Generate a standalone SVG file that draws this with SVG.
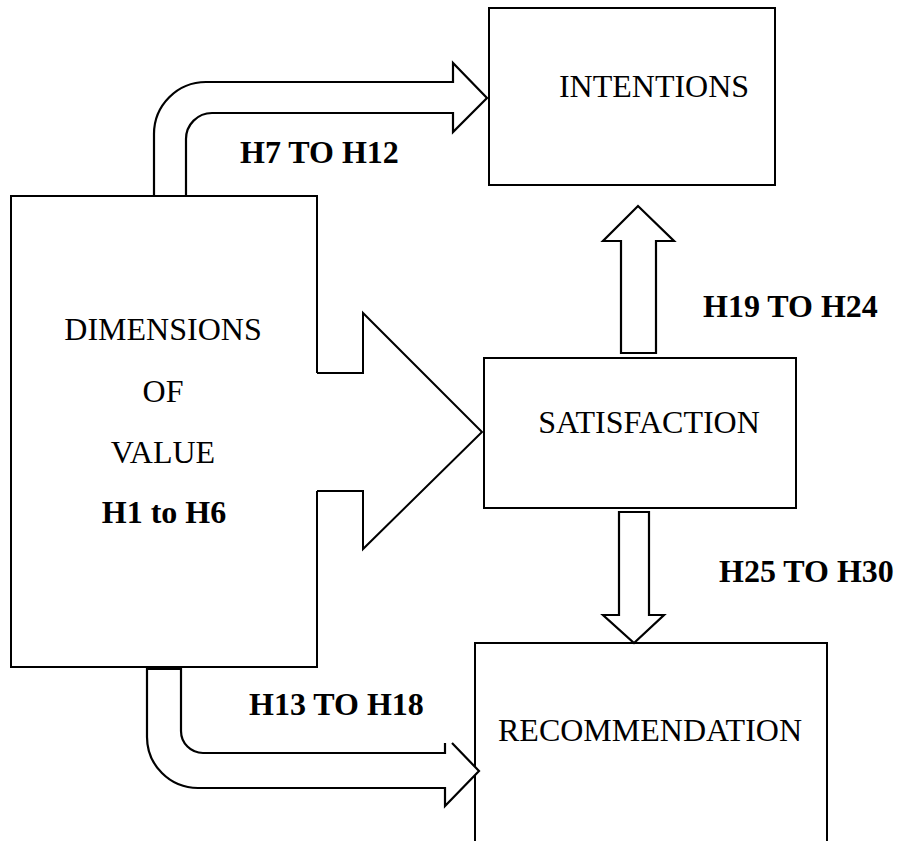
<svg xmlns="http://www.w3.org/2000/svg" width="900" height="841" viewBox="0 0 900 841">
<style>
.box{fill:#fff;stroke:#000;stroke-width:2}
.arr{fill:#fff;stroke:#000;stroke-width:2.2;stroke-linejoin:miter}
text{font-family:'Liberation Serif','Times New Roman',serif;font-size:32px;fill:#000}
.c{text-anchor:middle}
.b{font-weight:bold}
</style>
<rect width="900" height="841" fill="#fff"/>
<g id="intentions">
<rect class="box" x="489" y="8" width="286" height="177"/>
<text class="c" x="654" y="97">INTENTIONS</text>
</g>
<g id="satisfaction">
<rect class="box" x="484" y="358" width="312" height="150"/>
<text class="c" x="649" y="433">SATISFACTION</text>
</g>
<g id="recommendation">
<rect class="box" x="475" y="643" width="352" height="220"/>
<text class="c" x="650" y="741">RECOMMENDATION</text>
</g>
<g id="dimensions">
<rect class="box" x="11" y="196" width="306" height="471"/>
<text class="c" x="163" y="340">DIMENSIONS</text>
<text class="c" x="163" y="402">OF</text>
<text class="c" x="163" y="463">VALUE</text>
<text class="c b" x="164" y="523">H1 to H6</text>
</g>
<g id="connectors">
<path class="arr" d="M154,196 V134 A52,52 0 0 1 206,82 H453 V63 L487,98 L453,132 V113 H212 A26,26 0 0 0 186,139 V196 Z"/>
<path d="M147,669 V737 A51,51 0 0 0 198,788 H445 V806 L479,771 L452,743 H445 V753 H203 A22,22 0 0 1 181,731 V669 Z" fill="#fff" stroke="none"/>
<path d="M452,743 L479,771 L445,806 V788 H198 A51,51 0 0 1 147,737 V669 H181 V731 A22,22 0 0 0 203,753 H445 V743" fill="none" stroke="#000" stroke-width="2.2"/>
<path d="M312,373 H363 V313 L482,432 L363,549 V491 H312 Z" fill="#fff" stroke="none"/>
<path d="M317,373 H363 V313 L482,432 L363,549 V491 H317" fill="none" stroke="#000" stroke-width="2"/>
<polygon class="arr" points="621,353 621,241 603,241 638,206 674,241 656,241 656,353"/>
<polygon class="arr" points="619,512 649,512 649,615 664,615 634,643 603,615 619,615"/>
</g>
<g id="labels">
<text class="b" x="240" y="163">H7 TO H12</text>
<text class="b" x="249" y="715">H13 TO H18</text>
<text class="b" x="703" y="317">H19 TO H24</text>
<text class="b" x="719" y="582">H25 TO H30</text>
</g>
</svg>
